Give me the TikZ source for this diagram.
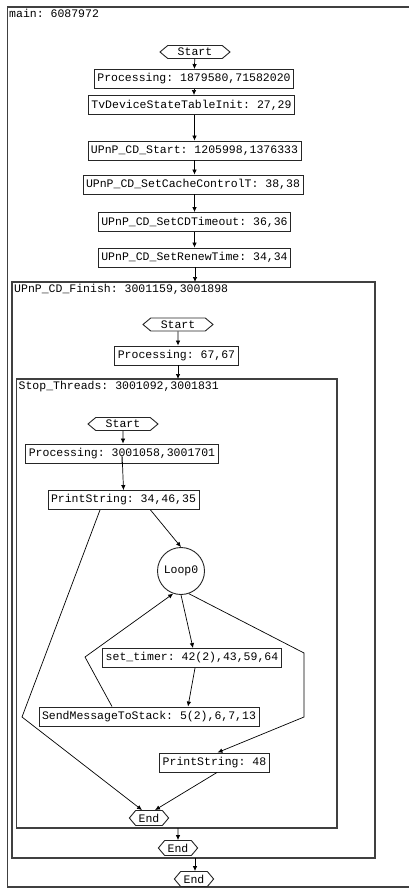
\documentclass[tikz,border=0pt]{standalone}
\usepackage{fontspec}
\setmonofont{Liberation Mono}
\usetikzlibrary{shapes.symbols,arrows.meta}
\begin{document}
\begin{tikzpicture}[x=1pt,y=-1pt,
  every node/.style={font=\ttfamily\fontsize{11.5}{12}\selectfont},
  box/.style={draw=black!85,line width=0.9pt,inner xsep=3pt,inner ysep=1pt,minimum height=19pt},
  hexa/.style={draw=black!85,line width=0.9pt,signal,signal to=east and west,inner ysep=0pt,minimum height=13pt},
  startstyle/.style={hexa,signal pointer angle=80,inner xsep=10pt},
  endstyle/.style={hexa,signal pointer angle=100,inner xsep=3pt,minimum height=15pt},
  loopstyle/.style={draw=black!85,line width=0.9pt,circle,minimum size=47pt,inner sep=0pt},
  frame/.style={draw=black!75,line width=1.4pt},
  lbl/.style={anchor=north west,inner sep=1pt},
  arr/.style={draw=black,line width=0.7pt,-{Latex[length=5pt,width=4.5pt]}}]
\useasboundingbox (0,0) rectangle (409,888);
\fill[white] (0,0) rectangle (409,888);
% frames
\draw[frame] (415,7) -- (7.5,7) -- (7.5,887) -- (415,887);
\draw[frame] (12,282) rectangle (375,858);
\draw[frame] (16.5,379) rectangle (337,828);
\node[lbl] (lmain) at (8,8) {main: 6087972};
\node[lbl] (lfin) at (13,283) {UPnP\_CD\_Finish: 3001159,3001898};
\node[lbl] (lstop) at (17.5,380) {Stop\_Threads: 3001092,3001831};
% main level
\node[startstyle] (s0) at (195,52) {Start};
\node[box] (p0) at (194,79) {Processing: 1879580,71582020};
\node[box] (tv) at (191.5,105) {TvDeviceStateTableInit: 27,29};
\node[box] (cs) at (194.5,150.5) {UPnP\_CD\_Start: 1205998,1376333};
\node[box] (cc) at (193,184.5) {UPnP\_CD\_SetCacheControlT: 38,38};
\node[box] (ct) at (194.5,222) {UPnP\_CD\_SetCDTimeout: 36,36};
\node[box] (cr) at (194.5,257.5) {UPnP\_CD\_SetRenewTime: 34,34};
\coordinate (finTop) at (195,282);
\coordinate (finBot) at (195,858);
\node[endstyle] (e0) at (194,879) {End};
% finish level
\node[startstyle] (s1) at (178,324.5) {Start};
\node[box] (p1) at (176.5,355.5) {Processing: 67,67};
\coordinate (stTop) at (178,379);
\coordinate (stBot) at (178,828);
\node[endstyle] (e1) at (178,848) {End};
% stop threads level
\node[startstyle] (s2) at (123,424) {Start};
\node[box] (p2) at (122,453.5) {Processing: 3001058,3001701};
\node[box] (ps1) at (123.5,500) {PrintString: 34,46,35};
\node[loopstyle] (loop) at (181,571) {Loop0};
\node[box] (st) at (192,658) {set\_timer: 42(2),43,59,64};
\node[box] (sm) at (149,716.5) {SendMessageToStack: 5(2),6,7,13};
\node[box] (ps2) at (214.5,762.5) {PrintString: 48};
\node[endstyle] (e2) at (149,818) {End};
\coordinate (cl) at (22,717);
\coordinate (cb) at (85,657);
\coordinate (cr1) at (304,653);
\coordinate (cr2) at (304,717);
% connectors
\draw[arr] (s0) -- (p0);
\draw[arr] (p0) -- (p0 |- tv.north);
\draw[arr] (tv.south -| cs) -- (cs);
\draw[arr] (cs) -- (cs |- cc.north);
\draw[arr] (cc.south -| ct) -- (ct);
\draw[arr] (ct) -- (cr);
\draw[arr] (cr.south -| finTop) -- (finTop);
\draw[arr] (finBot) -- (finBot |- e0.north);
\draw[arr] (s1) -- (s1 |- p1.north);
\draw[arr] (p1.south -| stTop) -- (stTop);
\draw[arr] (stBot) -- (e1);
\draw[arr] (s2) -- (s2 |- p2.north);
\draw[arr] (p2.south) .. controls ([yshift=12pt]p2.south) .. (ps1.north);
\draw[arr] ([xshift=27pt]ps1.south) -- (loop.north);
\draw[arr] ([xshift=-23.5pt]ps1.south) -- (cl) -- ([xshift=-7pt]e2.north);
\draw[arr] (loop.south) -- ([xshift=1pt]st.north);
\draw[arr] ([xshift=3pt]st.south) -- ([xshift=39pt]sm.north);
\draw[arr] ([xshift=-37pt]sm.north) -- (cb) -- (loop.251);
\draw[arr] (loop.289) -- (cr1) -- (cr2) -- ([xshift=3pt]ps2.north);
\draw[arr] ([xshift=2.5pt]ps2.south) -- ([xshift=6pt]e2.north);
\end{tikzpicture}
\end{document}
